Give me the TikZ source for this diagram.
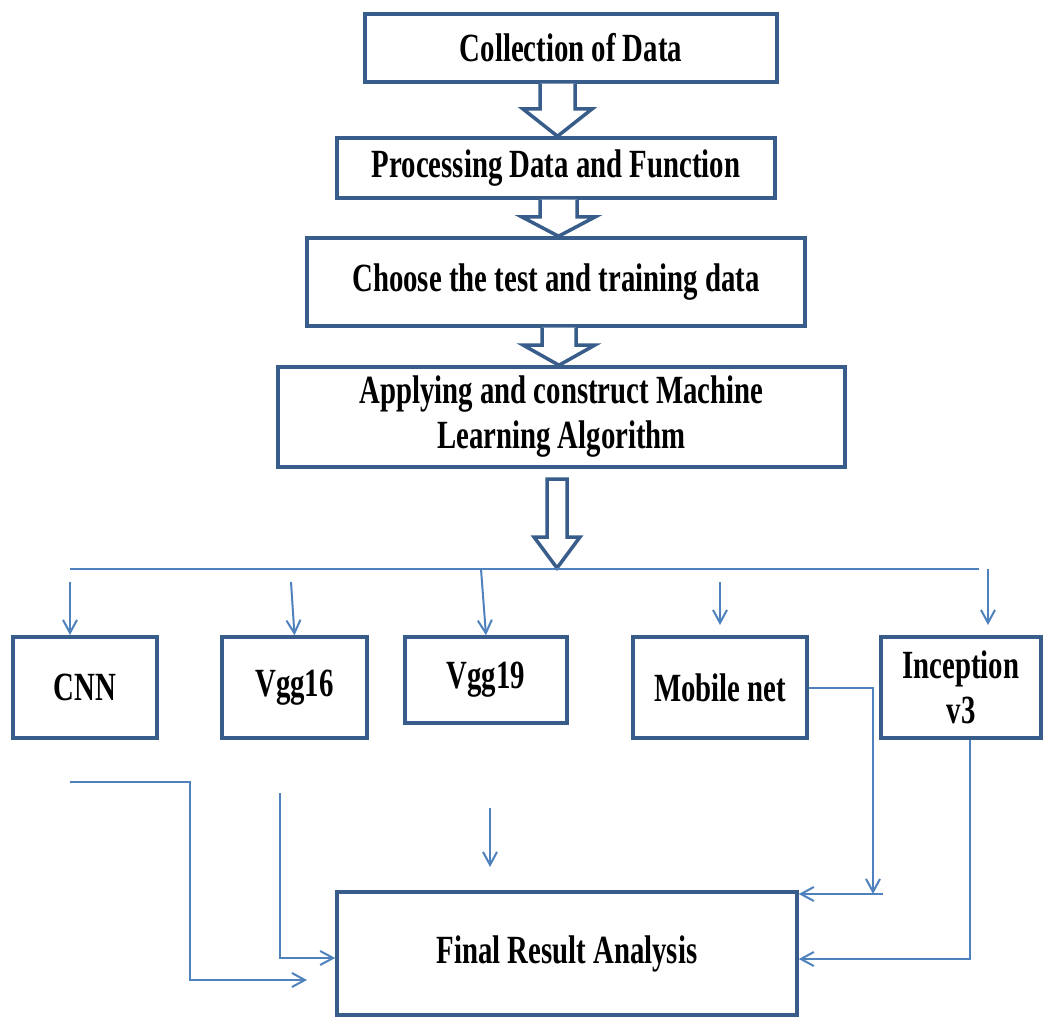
\documentclass[tikz,border=0pt]{standalone}
\usepackage{fontspec}
\newfontfamily\flowfont{Liberation Serif}[FakeStretch=0.72]
\usetikzlibrary{arrows.meta}
\definecolor{boxline}{RGB}{56,93,138}
\definecolor{linkline}{RGB}{79,129,189}

\begin{document}
\begin{tikzpicture}[x=1pt,y=-1pt,
      stage/.style={
         rectangle,
         draw=boxline,
         line width=3.5pt,
         fill=white,
         inner sep=0pt,
         align=center,
         font=\flowfont\bfseries\fontsize{40}{45}\selectfont
      },
      model/.style={stage, minimum height=101},
      fat/.style={draw=boxline, line width=3.5pt, fill=white, line join=miter},
      link/.style={draw=linkline, line width=2pt},
      tip/.style={-{Straight Barb[length=13pt,width=14pt]}}
    ]
    \useasboundingbox (0,0) rectangle (1045,1019);
    % main stages
    \node (coll)   [stage, minimum width=412, minimum height=68]  at (571,48)    {Collection of Data};
    \node (proc)   [stage, minimum width=438, minimum height=60]  at (556,168)   {Processing Data and Function};
    \node (choose) [stage, minimum width=498, minimum height=88]  at (556,282)   {Choose the test and training data};
    \node (apply)  [stage, minimum width=567, minimum height=100] at (561.5,417) {Applying and construct Machine\\Learning Algorithm};
    % models
    \node (cnn)    [model, minimum width=144] at (85,687.5)    {CNN};
    \node (vgg16)  [model, minimum width=145] at (294.5,687.5) {Vgg16};
    \node (vgg19)  [stage, minimum width=162, minimum height=86] at (486,680) {Vgg19};
    \node (mobile) [model, minimum width=174] at (720,687.5)   {Mobile net};
    \node (incep)  [model, minimum width=160] at (961,687.5)   {Inception\\v3};
    \node (final)  [stage, minimum width=460, minimum height=123] at (567,953.5) {Final Result Analysis};

    % block arrows
    \draw[fat] (coll.south -| 540,0) |- (523,109) -- (proc.north -| 557.5,0) -- (592,109) -| (coll.south -| 575,0);
    \draw[fat] (proc.south -| 540,0) |- (522,217) -- (choose.north -| 558.5,0) -- (595,217) -| (proc.south -| 577,0);
    \draw[fat] (choose.south -| 542,0) |- (523,345) -- (apply.north -| 559,0) -- (595,345) -| (choose.south -| 576,0);
    \draw[fat] (547,479) -- (547,537) -- (534,537) -- (557,568) -- (580,537) -- (567,537) -- (567,479) -- cycle;

    % distribution to the models
    \coordinate (h0) at (70,569);
    \coordinate (h1) at (979,569);
    \draw[link] (h0) -- (h1);
    \coordinate (cnntop)  at (70,582);
    \coordinate (cnnend)  at (70,635);
    \coordinate (v16top)  at (291,582);
    \coordinate (v19top)  at (481,569);
    \coordinate (mobtop)  at (720,582);
    \coordinate (mobend)  at (720,625);
    \coordinate (inctop)  at (988,569);
    \coordinate (incend)  at (988,625);
    \draw[link,tip] (cnntop) -- (cnnend);
    \draw[link,tip] (v16top) -- (vgg16.north);
    \draw[link,tip] (v19top) -- (vgg19.north);
    \draw[link,tip] (mobtop) -- (mobend);
    \draw[link,tip] (inctop) -- (incend);

    % results into the final analysis
    \coordinate (cnnout) at (70,782);
    \coordinate (cnnin)  at (307,980);
    \coordinate (v16out) at (280,793);
    \coordinate (midtop) at (490,808);
    \coordinate (midend) at (490,867);
    \coordinate (mbdown) at (873,894);
    \coordinate (mbside) at (883,894);
    \draw[link,tip] (cnnout) -- ++(120,0) |- (cnnin);
    \draw[link,tip] (v16out) |- ([yshift=-4.5pt]final.west);
    \draw[link,tip] (midtop) -- (midend);
    \draw[link,tip] (mobile.east) -| (mbdown);
    \draw[link,tip] (mbside) -- (mbside -| final.east);
    \draw[link,tip] (incep.south -| 970,0) |- ([yshift=-5.5pt]final.east);
\end{tikzpicture}
\end{document}
